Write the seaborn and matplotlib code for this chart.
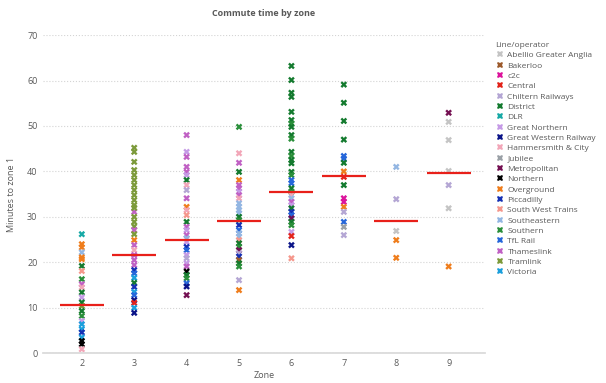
import matplotlib
matplotlib.use("Agg")
import matplotlib.pyplot as plt
from matplotlib.lines import Line2D
import numpy as np
import pandas as pd
import seaborn as sns

ZONES = [2, 3, 4, 5, 6, 7, 8, 9]

# legend order and colours
LINES = ["AGA", "BAK", "C2C", "CEN", "CHI", "DIS", "DLR", "GN", "GWR", "HC", "JUB",
         "MET", "NOR", "OVG", "PIC", "SWT", "SE", "STH", "TFL", "TL", "TRM", "VIC"]
LINE_NAMES = ["Abellio Greater Anglia", "Bakerloo", "c2c", "Central", "Chiltern Railways",
              "District", "DLR", "Great Northern", "Great Western Railway",
              "Hammersmith & City", "Jubilee", "Metropolitan", "Northern", "Overground",
              "Piccadilly", "South West Trains", "Southeastern", "Southern", "TfL Rail",
              "Thameslink", "Tramlink", "Victoria"]
LINE_COLORS = ["#c4c4c4", "#9c5a2c", "#dc139c", "#e2231a", "#b4a6d4", "#137a2e",
               "#17a9a6", "#c59ae6", "#0b1488", "#f2a6b8", "#9aa0a6", "#741052",
               "#000000", "#ef7d1c", "#1530b4", "#f5978c", "#93b6e2", "#2a8f3a",
               "#2566da", "#c060c4", "#7c9a3a", "#1a9fdc"]

zone2_lines = ["DLR", "OVG", "OVG", "SE", "OVG", "OVG", "DIS", "SWT", "STH", "TL", "HC", "DIS",
               "GN", "DIS", "TRM", "DIS", "STH", "GN", "VIC", "VIC", "PIC", "VIC", "NOR", "NOR", "HC"]
zone2_mins = [26.2, 24.0, 23.3, 22.2, 21.1, 20.7, 19.2, 18.1, 16.3, 15.2, 14.5, 13.4,
              12.3, 11.2, 10.4, 9.3, 8.2, 7.1, 6.4, 5.3, 4.6, 3.5, 2.7, 2.0, 0.9]

zone3_lines = ["TRM", "TRM", "TRM", "TRM", "TRM", "TRM", "TRM", "TRM", "TRM", "TRM", "TRM",
               "TL", "TRM", "TRM", "TRM", "TRM", "TL", "TRM", "OVG", "TL", "HC", "TL", "TL",
               "TL", "PIC", "TFL", "VIC", "DIS", "PIC", "VIC", "TFL", "GWR", "CEN", "VIC", "GWR"]
zone3_mins = [45.2, 44.3, 42.1, 40.3, 39.2, 38.1, 37.0, 35.9, 34.8, 33.7, 32.6,
              31.1, 32.0, 30.0, 28.9, 27.9, 27.1, 26.2, 24.9, 23.8, 22.7, 21.6, 20.5,
              19.4, 18.3, 17.6, 16.6, 15.5, 14.6, 13.5, 12.8, 11.7, 11.1, 10.0, 8.9]

zone4_lines = ["TL", "GN", "TL", "TL", "TL", "GN", "DIS", "HC", "CHI", "TL", "OVG", "HC",
               "SWT", "DIS", "TL", "GN", "TL", "SE", "GN", "PIC", "TFL", "GN", "CHI", "GN",
               "TL", "NOR", "DIS", "STH", "TFL", "GWR", "MET"]
zone4_mins = [48.0, 44.3, 43.2, 41.0, 39.9, 39.2, 38.1, 37.0, 35.9, 34.1, 32.2, 31.5,
              30.4, 28.9, 27.8, 27.1, 26.0, 25.3, 24.5, 23.4, 22.7, 21.6, 20.9, 19.8,
              19.1, 18.0, 17.2, 16.5, 15.4, 14.7, 12.8]

zone5_lines = ["STH", "HC", "TL", "DIS", "OVG", "TL", "TL", "GN", "TL", "HC", "SE", "SE",
               "SE", "SE", "DIS", "STH", "PIC", "TFL", "SE", "SE", "SWT", "DIS", "STH",
               "MET", "CHI", "PIC", "BAK", "DIS", "STH", "CHI", "OVG"]
zone5_mins = [49.8, 44.0, 41.9, 39.9, 38.1, 37.0, 36.3, 35.5, 34.8, 34.1, 33.0, 32.2,
              31.5, 30.8, 30.0, 29.3, 28.2, 27.1, 26.4, 25.6, 24.9, 24.2, 23.4,
              22.7, 22.0, 21.3, 20.5, 19.8, 19.1, 16.1, 13.9]

zone6_lines = ["DIS", "DIS", "DIS", "DIS", "DIS", "DIS", "STH", "DIS", "DIS", "STH", "DIS",
               "STH", "DIS", "DIS", "DIS", "STH", "TFL", "TFL", "DIS", "STH", "HC", "SE",
               "TL", "GN", "DIS", "PIC", "TFL", "MET", "DIS", "STH", "GN", "CEN", "GWR", "SWT"]
zone6_mins = [63.2, 60.1, 57.3, 56.4, 53.1, 51.3, 50.5, 49.8, 48.0, 47.2, 44.3,
              43.4, 42.5, 41.8, 39.9, 39.2, 38.1, 37.4, 36.3, 35.5, 34.8, 34.1,
              33.3, 32.6, 31.9, 31.1, 30.4, 29.7, 28.9, 28.2, 26.7, 25.8, 23.8, 20.9]

zone7_lines = ["DIS", "DIS", "DIS", "DIS", "TFL", "TFL", "DIS", "OVG", "CEN", "DIS", "C2C",
               "C2C", "OVG", "CHI", "TFL", "JUB", "CHI"]
zone7_mins = [59.1, 55.1, 51.1, 47.0, 43.4, 42.8, 41.9, 40.0, 38.8, 37.0, 34.1,
              33.3, 32.2, 31.1, 28.9, 27.8, 26.0]

zone8_lines = ["SE", "CHI", "AGA", "OVG", "OVG"]
zone8_mins = [41.0, 33.9, 26.9, 24.9, 21.0]

zone9_lines = ["MET", "AGA", "AGA", "AGA", "CHI", "AGA", "OVG"]
zone9_mins = [52.9, 50.9, 46.9, 40.1, 37.0, 31.9, 19.1]

# red bars
zone_avg = [10.6, 21.6, 24.9, 29.2, 35.5, 39.0, 29.1, 39.6]


def build_frame():
    all_lines = [zone2_lines, zone3_lines, zone4_lines, zone5_lines,
                 zone6_lines, zone7_lines, zone8_lines, zone9_lines]
    all_mins = [zone2_mins, zone3_mins, zone4_mins, zone5_mins,
                zone6_mins, zone7_mins, zone8_mins, zone9_mins]
    names = dict(zip(LINES, LINE_NAMES))
    data = {"Zone": [], "Minutes to zone 1": [], "Line/operator": []}
    for z, ls, ms in zip(ZONES, all_lines, all_mins):
        for l, m in zip(ls, ms):
            data["Zone"].append(z)
            data["Minutes to zone 1"].append(m)
            data["Line/operator"].append(names[l])
    return pd.DataFrame(data)


def plot(df):
    sns.set_theme(style="white")
    plt.rcParams["font.family"] = ["Open Sans", "DejaVu Sans"]
    grey = "#595959"
    palette = dict(zip(LINE_NAMES, LINE_COLORS))

    fig = plt.figure(figsize=(6.06, 3.83), dpi=100)
    ax = fig.add_axes([0.071, 0.0775, 0.729, 0.831])
    sns.stripplot(data=df, x="Zone", y="Minutes to zone 1", hue="Line/operator",
                  hue_order=LINE_NAMES, palette=palette, order=ZONES, jitter=False,
                  marker="X", size=4.8, linewidth=0, ax=ax, zorder=2)
    pos = np.arange(len(ZONES))
    ax.hlines(zone_avg, pos - 0.42, pos + 0.42, color="#e8201a", lw=1.6, zorder=3)

    ax.set_xlim(-0.74, 7.69)
    ax.set_ylim(0, 70)
    ax.set_yticks(range(0, 71, 10))
    ax.yaxis.grid(True, linestyle=":", color="#d4d4d4", lw=0.8)
    ax.xaxis.grid(False)
    for s in ["top", "right", "left"]:
        ax.spines[s].set_visible(False)
    ax.spines["bottom"].set_color("#d9d9d9")
    ax.tick_params(axis="both", labelsize=6.5, colors=grey, length=0, pad=4)
    ax.set_xlabel("Zone", fontsize=6.5, color=grey, labelpad=2)
    ax.set_ylabel("Minutes to zone 1", fontsize=6.5, color=grey, labelpad=8)
    ax.set_title("Commute time by zone", fontsize=6.5, color=grey, fontweight="bold", pad=14)

    ax.get_legend().remove()
    handles = [Line2D([], [], marker="X", linestyle="", color=c, markersize=5,
                      markeredgewidth=0) for c in LINE_COLORS]
    leg = fig.legend(handles, LINE_NAMES, loc="upper left",
                     bbox_to_anchor=(495 / 606, 1 - 42 / 383), frameon=False,
                     title="Line/operator", fontsize=6, title_fontsize=6,
                     labelspacing=0.3, handletextpad=0.3, handlelength=1.2,
                     alignment="left", borderpad=0, borderaxespad=0)
    for t in leg.get_texts():
        t.set_color(grey)
    leg.get_title().set_color(grey)

    fig.savefig("out.png", dpi=100)


def main():
    df = build_frame()
    plot(df)


if __name__ == "__main__":
    main()
